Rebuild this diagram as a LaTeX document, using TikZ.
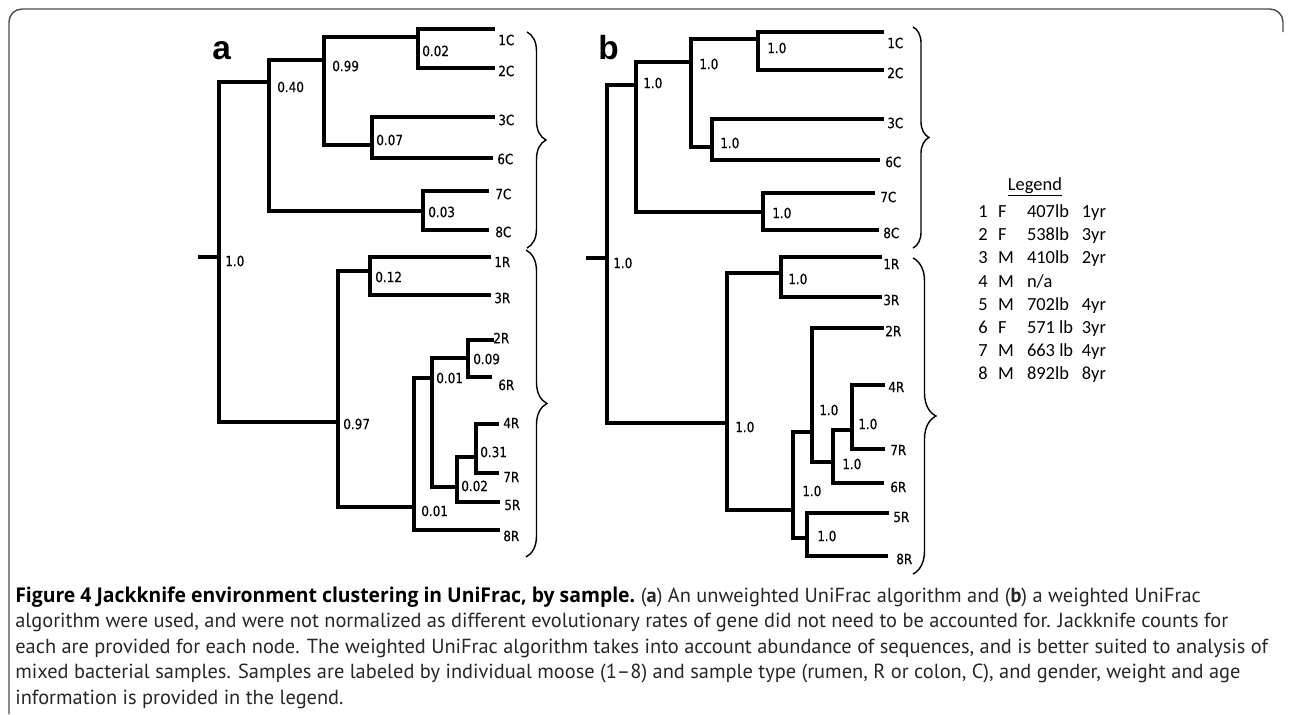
\documentclass[tikz,border=0pt]{standalone}
\usepackage{fontspec}
\setmainfont{PT Sans}
\newfontfamily\capboldfont{Open Sans}
\newfontfamily\treefont{DejaVu Sans}[FakeStretch=0.85, FakeBold=0.4]
\newfontfamily\legfont{Carlito}
\newfontfamily\panelfont{Liberation Sans}
\usetikzlibrary{decorations.pathreplacing, calc}
\tikzset{
    branch/.style={
        line width=2pt,
        line cap=rect,
    },
    jk/.style={
        anchor=west,
        inner sep=0pt,
        font=\treefont\fontsize{8}{9}\selectfont,
    },
    leaflab/.style={
        anchor=west,
        inner sep=0pt,
        font=\treefont\fontsize{8}{9}\selectfont,
    },
    clade/.style={
        decorate,
        decoration={brace, amplitude=#1},
        line width=0.8pt,
    },
    panel/.style={
        anchor=base west,
        inner sep=0pt,
        font=\panelfont\bfseries\fontsize{19}{20}\selectfont,
    },
    capline/.style={
        anchor=base west,
        inner sep=0pt,
        text=black!85,
        font=\fontsize{11.6}{14}\selectfont,
    },
}

\begin{document}
\begin{tikzpicture}[x=0.02cm, y=-0.02cm]
    \useasboundingbox (0,0) rectangle (1292,714);

    % frame
    \draw[gray!60!black, line width=0.8pt, rounded corners=0.26cm] (9,714) -- (9,9) -- (1283,9) -- (1283,32);

    % panel a
    \node[panel] (pa) at (212,59) {a};

    \coordinate (aS) at (200,257);
    \coordinate (a0) at (219,257);
    \coordinate (a40) at (269,82);
    \coordinate (a97) at (338,422);
    \coordinate (a99) at (324,60);
    \coordinate (a03) at (423,211);
    \coordinate (a02) at (418,37);
    \coordinate (a07) at (372,145);
    \coordinate (a12) at (370,271);
    \coordinate (a01b) at (414,507);
    \coordinate (a01a) at (432,378);
    \coordinate (a09) at (468,358);
    \coordinate (a02b) at (457,487);
    \coordinate (a31) at (476,457);

    \coordinate (a1C) at (493,29);
    \coordinate (a2C) at (493,68);
    \coordinate (a3C) at (493,117);
    \coordinate (a6C) at (491,158);
    \coordinate (a7C) at (487,191);
    \coordinate (a8C) at (487,230);
    \coordinate (a1R) at (489,257);
    \coordinate (a3R) at (489,295);
    \coordinate (a2R) at (492,340);
    \coordinate (a6R) at (490,377);
    \coordinate (a4R) at (497,424);
    \coordinate (a7R) at (497,473);
    \coordinate (a5R) at (498,502);
    \coordinate (a8R) at (498,530);

    \draw[branch] (aS) -- (a0);
    \draw[branch] (a0) |- (a40);
    \draw[branch] (a0) |- (a97);
    \draw[branch] (a40) |- (a99);
    \draw[branch] (a40) |- (a03);
    \draw[branch] (a99) |- (a02);
    \draw[branch] (a99) |- (a07);
    \draw[branch] (a02) |- (a1C);
    \draw[branch] (a02) |- (a2C);
    \draw[branch] (a07) |- (a3C);
    \draw[branch] (a07) |- (a6C);
    \draw[branch] (a03) |- (a7C);
    \draw[branch] (a03) |- (a8C);
    \draw[branch] (a97) |- (a12);
    \draw[branch] (a97) |- (a01b);
    \draw[branch] (a12) |- (a1R);
    \draw[branch] (a12) |- (a3R);
    \draw[branch] (a01b) |- (a01a);
    \draw[branch] (a01b) |- (a8R);
    \draw[branch] (a01a) |- (a09);
    \draw[branch] (a01a) |- (a02b);
    \draw[branch] (a09) |- (a2R);
    \draw[branch] (a09) |- (a6R);
    \draw[branch] (a02b) |- (a31);
    \draw[branch] (a02b) |- (a5R);
    \draw[branch] (a31) |- (a4R);
    \draw[branch] (a31) |- (a7R);

    \node[jk] (ja0) at (225,261) {1.0};
    \node[jk] (ja40) at (277,87) {0.40};
    \node[jk] (ja99) at (332,66) {0.99};
    \node[jk] (ja02) at (422,51) {0.02};
    \node[jk] (ja07) at (376,140) {0.07};
    \node[jk] (ja03) at (428,212) {0.03};
    \node[jk] (ja12) at (375,277) {0.12};
    \node[jk] (ja97) at (343,424) {0.97};
    \node[jk] (ja01b) at (421,511) {0.01};
    \node[jk] (ja01a) at (436,378) {0.01};
    \node[jk] (ja09) at (473,359) {0.09};
    \node[jk] (ja31) at (480,452) {0.31};
    \node[jk] (ja02b) at (461,486) {0.02};

    \node[leaflab] (ta1C) at (498,40) {1C};
    \node[leaflab] (ta2C) at (498,71) {2C};
    \node[leaflab] (ta3C) at (498,120) {3C};
    \node[leaflab] (ta6C) at (497,159) {6C};
    \node[leaflab] (ta7C) at (495,194) {7C};
    \node[leaflab] (ta8C) at (495,232) {8C};
    \node[leaflab] (ta1R) at (494,262) {1R};
    \node[leaflab] (ta3R) at (494,298) {3R};
    \node[leaflab] (ta2R) at (493,338) {2R};
    \node[leaflab] (ta6R) at (498,385) {6R};
    \node[leaflab] (ta4R) at (503,423) {4R};
    \node[leaflab] (ta7R) at (503,477) {7R};
    \node[leaflab] (ta5R) at (504,505) {5R};
    \node[leaflab] (ta8R) at (503,536) {8R};

    \coordinate (aCtop) at (527,32);
    \coordinate (aCbot) at (527,248);
    \coordinate (aRtop) at (526,250);
    \coordinate (aRbot) at (526,557);
    \draw[clade=0.38cm] (aCtop) -- (aCbot);
    \draw[clade=0.42cm] (aRtop) -- (aRbot);

    % panel b
    \node[panel] (pb) at (598,59) {b};

    \coordinate (bS) at (588,258);
    \coordinate (b0) at (607,258);
    \coordinate (bC) at (636,85);
    \coordinate (bR) at (727,423);
    \coordinate (bC1) at (691,62);
    \coordinate (b78) at (763,212);
    \coordinate (b12) at (758,39);
    \coordinate (b36) at (712,147);
    \coordinate (b13) at (781,273);
    \coordinate (bX) at (793,510);
    \coordinate (b2) at (812,432);
    \coordinate (b58) at (807,538);
    \coordinate (b6) at (833,462);
    \coordinate (b47) at (852,430);

    \coordinate (b1C) at (882,32);
    \coordinate (b2C) at (882,70);
    \coordinate (b3C) at (882,119);
    \coordinate (b6C) at (878,160);
    \coordinate (b7C) at (873,193);
    \coordinate (b8C) at (877,230);
    \coordinate (b1R) at (880,257);
    \coordinate (b3R) at (880,297);
    \coordinate (b2R) at (882,328);
    \coordinate (b4R) at (883,385);
    \coordinate (b7R) at (883,449);
    \coordinate (b6R) at (882,483);
    \coordinate (b5R) at (887,513);
    \coordinate (b8R) at (886,556);

    \draw[branch] (bS) -- (b0);
    \draw[branch] (b0) |- (bC);
    \draw[branch] (b0) |- (bR);
    \draw[branch] (bC) |- (bC1);
    \draw[branch] (bC) |- (b78);
    \draw[branch] (bC1) |- (b12);
    \draw[branch] (bC1) |- (b36);
    \draw[branch] (b12) |- (b1C);
    \draw[branch] (b12) |- (b2C);
    \draw[branch] (b36) |- (b3C);
    \draw[branch] (b36) |- (b6C);
    \draw[branch] (b78) |- (b7C);
    \draw[branch] (b78) |- (b8C);
    \draw[branch] (bR) |- (b13);
    \draw[branch] (bR) |- (bX);
    \draw[branch] (b13) |- (b1R);
    \draw[branch] (b13) |- (b3R);
    \draw[branch] (bX) |- (b2);
    \draw[branch] (bX) |- (b58);
    \draw[branch] (b2) |- (b2R);
    \draw[branch] (b2) |- (b6);
    \draw[branch] (b6) |- (b47);
    \draw[branch] (b6) |- (b6R);
    \draw[branch] (b47) |- (b4R);
    \draw[branch] (b47) |- (b7R);
    \draw[branch] (b58) |- (b5R);
    \draw[branch] (b58) |- (b8R);

    \node[jk] (jb0) at (613,263) {1.0};
    \node[jk] (jbC) at (643,83) {1.0};
    \node[jk] (jbC1) at (699,64) {1.0};
    \node[jk] (jb12) at (767,48) {1.0};
    \node[jk] (jb36) at (720,143) {1.0};
    \node[jk] (jb78) at (772,213) {1.0};
    \node[jk] (jbR) at (735,427) {1.0};
    \node[jk] (jb13) at (788,279) {1.0};
    \node[jk] (jbX) at (802,491) {1.0};
    \node[jk] (jb2) at (819,410) {1.0};
    \node[jk] (jb6) at (842,464) {1.0};
    \node[jk] (jb47) at (858,424) {1.0};
    \node[jk] (jb58) at (817,536) {1.0};

    \node[leaflab] (tb1C) at (887,43) {1C};
    \node[leaflab] (tb2C) at (887,73) {2C};
    \node[leaflab] (tb3C) at (887,123) {3C};
    \node[leaflab] (tb6C) at (885,162) {6C};
    \node[leaflab] (tb7C) at (880,197) {7C};
    \node[leaflab] (tb8C) at (883,233) {8C};
    \node[leaflab] (tb1R) at (883,264) {1R};
    \node[leaflab] (tb3R) at (883,300) {3R};
    \node[leaflab] (tb2R) at (885,331) {2R};
    \node[leaflab] (tb4R) at (888,387) {4R};
    \node[leaflab] (tb7R) at (890,450) {7R};
    \node[leaflab] (tb6R) at (890,487) {6R};
    \node[leaflab] (tb5R) at (893,517) {5R};
    \node[leaflab] (tb8R) at (896,559) {8R};

    \coordinate (bCtop) at (913,27);
    \coordinate (bCbot) at (913,248);
    \coordinate (bRtop) at (913,258);
    \coordinate (bRbot) at (913,574);
    \draw[clade=0.32cm] (bCtop) -- (bCbot);
    \draw[clade=0.46cm] (bRtop) -- (bRbot);

    % legend
    \node[inner sep=0pt, font=\legfont\fontsize{10.5}{12}\selectfont] (leghead) at (1035,187) {\underline{Legend}};
    \node[anchor=north west, inner sep=0pt, font=\legfont\fontsize{10.5}{13.2}\selectfont] (legtab) at (978,201) {%
        \begin{tabular}{@{}p{11.3pt}@{}p{16.4pt}@{}p{31.2pt}@{}l@{}}
        1 & F & 407lb & 1yr\\
        2 & F & 538lb & 3yr\\
        3 & M & 410lb & 2yr\\
        4 & M & n/a & \\
        5 & M & 702lb & 4yr\\
        6 & F & 571 lb & 3yr\\
        7 & M & 663 lb & 4yr\\
        8 & M & 892lb & 8yr
        \end{tabular}};

    % caption
    \node[capline, text=black] (cap1a) at (15,602) {\resizebox{12.4cm}{\height}{\capboldfont\bfseries Figure 4 Jackknife environment clustering in UniFrac, by sample.}};
    \node[capline, anchor=base west] (cap1b) at ($(cap1a.base east)+(5,0)$) {(\textbf{a}) An unweighted UniFrac algorithm and (\textbf{b}) a weighted UniFrac};
    \node[capline] (cap2) at (15,627.5) {algorithm were used, and were not normalized as different evolutionary rates of gene did not need to be accounted for. Jackknife counts for};
    \node[capline] (cap3) at (15,653) {each are provided for each node. The weighted UniFrac algorithm takes into account abundance of sequences, and is better suited to analysis of};
    \node[capline] (cap4) at (15,678.5) {mixed bacterial samples. Samples are labeled by individual moose (1--8) and sample type (rumen, R or colon, C), and gender, weight and age};
    \node[capline] (cap5) at (15,704) {information is provided in the legend.};
\end{tikzpicture}
\end{document}
